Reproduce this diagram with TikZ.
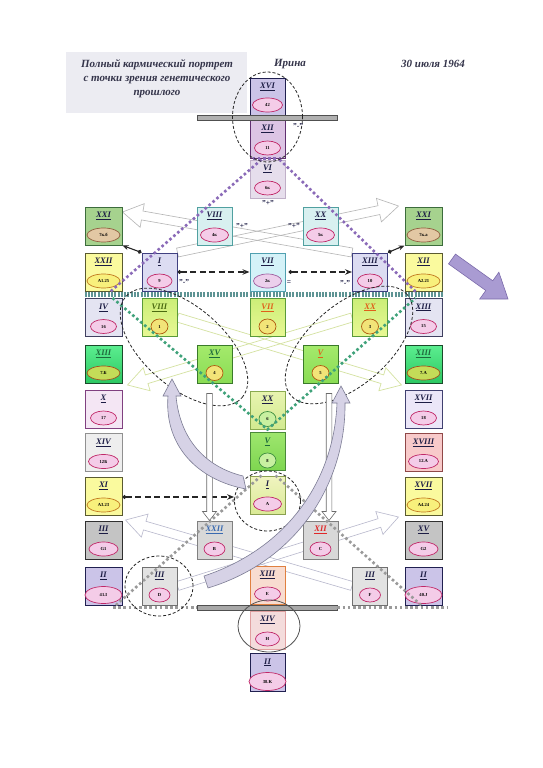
\documentclass[tikz,border=0pt]{standalone}
\usepackage{fontspec}
\setmainfont{Liberation Serif}
\usetikzlibrary{calc,shapes.geometric,arrows.meta}
\pgfdeclarelayer{background}
\pgfsetlayers{background,main}

\definecolor{titlebg}{HTML}{ECECF2}
\definecolor{ttlc}{HTML}{34344A}
\definecolor{labc}{HTML}{1C1C44}
\definecolor{labg}{HTML}{1E6A3C}
\definecolor{labo}{HTML}{E0601A}
\definecolor{labol}{HTML}{4A6A10}
\definecolor{labb}{HTML}{3A6AB0}
\definecolor{labr}{HTML}{E02828}
\definecolor{pinkf}{HTML}{F4CCE8}
\definecolor{pinkd}{HTML}{C02868}
\definecolor{yelf}{HTML}{F8F07C}
\definecolor{yeld}{HTML}{C07820}
\definecolor{tanf}{HTML}{E2C8A4}
\definecolor{tand}{HTML}{906040}
\definecolor{lavof}{HTML}{ECD0EC}
\definecolor{lavod}{HTML}{A060A0}
\definecolor{ogf}{HTML}{C4DC58}
\definecolor{ogd}{HTML}{A05020}
\definecolor{circf}{HTML}{F2E478}
\definecolor{circd}{HTML}{B05A10}
\definecolor{circgf}{HTML}{C8F0A0}
\definecolor{circgd}{HTML}{409040}
\definecolor{purpc}{HTML}{8A6AB8}
\definecolor{tealc}{HTML}{5E9494}
\definecolor{greenc}{HTML}{3FA27A}
\definecolor{grayc}{HTML}{9A9A9A}

\newcommand\kb[8]{%
  \node[kbox,#4] (#1) at (#2,#3) {};
  \node[klab,text=#6] (#1-l) at ([yshift=-9.5pt]#1.north) {\underline{#5}};
  \node[koval,#8] (#1-o) at ([yshift=10.5pt]#1.south) {#7};
}
\newcommand\harrow[6]{%
  \path[#6] let \p1=(#1), \p2=(#2),
    \n1={atan2(\y2-\y1,\x2-\x1)}, \n2={veclen(\x2-\x1,\y2-\y1)}, \n3={\n2-#5pt} in
    [shift={(\p1)}, rotate=\n1]
    (0pt,-#3pt) -- (\n3,-#3pt) -- (\n3,-#4pt) -- (\n2,0pt) -- (\n3,#4pt) -- (\n3,#3pt) -- (0pt,#3pt) -- cycle;}

\tikzset{
  kbox/.style={draw, line width=1pt, minimum width=35pt, minimum height=38pt, inner sep=0pt},
  outer/.style={minimum width=37pt},
  klab/.style={font=\bfseries\itshape\fontsize{8.5}{9}\selectfont, inner sep=0pt},
  koval/.style={ellipse, line width=0.7pt, minimum width=28pt, minimum height=14pt, inner sep=0pt, font=\bfseries\fontsize{4.6}{5}\selectfont},
  opink/.style={fill=pinkf, draw=pinkd},
  oyellow/.style={fill=yelf, draw=yeld},
  otan/.style={fill=tanf, draw=tand},
  olav/.style={fill=lavof, draw=lavod},
  ogreen/.style={fill=ogf, draw=ogd},
  ocirc/.style={fill=circf, draw=circd, minimum width=17pt, minimum height=15pt},
  ocircg/.style={fill=circgf, draw=circgd, minimum width=17pt, minimum height=15pt},
  bgreen/.style={fill={rgb,255:red,166;green,210;blue,142}, draw={rgb,255:red,60;green,108;blue,60}},
  byellow/.style={fill={rgb,255:red,250;green,250;blue,158}, draw={rgb,255:red,90;green,90;blue,48}},
  blavl/.style={fill={rgb,255:red,228;green,228;blue,242}, draw={rgb,255:red,64;green,64;blue,96}},
  bxiii/.style={top color={rgb,255:red,92;green,238;blue,144}, bottom color={rgb,255:red,44;green,200;blue,98}, draw={rgb,255:red,26;green,74;blue,42}},
  bx/.style={fill={rgb,255:red,244;green,230;blue,244}, draw={rgb,255:red,128;green,64;blue,128}},
  bgrayl/.style={fill={rgb,255:red,238;green,238;blue,238}, draw={rgb,255:red,144;green,144;blue,144}},
  blav2/.style={fill={rgb,255:red,235;green,230;blue,248}, draw={rgb,255:red,64;green,64;blue,112}},
  bpink/.style={fill={rgb,255:red,248;green,202;blue,202}, draw={rgb,255:red,144;green,72;blue,72}},
  bgray/.style={fill={rgb,255:red,196;green,196;blue,196}, draw={rgb,255:red,48;green,48;blue,48}},
  bii/.style={fill={rgb,255:red,203;green,196;blue,232}, draw={rgb,255:red,32;green,32;blue,80}},
  bxii/.style={fill={rgb,255:red,220;green,196;blue,228}, draw={rgb,255:red,96;green,48;blue,112}},
  bvi/.style={fill={rgb,255:red,230;green,222;blue,236}, draw={rgb,255:red,192;green,176;blue,200}},
  bcyan/.style={fill={rgb,255:red,212;green,242;blue,248}, draw={rgb,255:red,80;green,160;blue,176}},
  bcyan2/.style={fill={rgb,255:red,216;green,240;blue,240}, draw={rgb,255:red,80;green,160;blue,160}},
  blavi/.style={fill={rgb,255:red,220;green,220;blue,242}, draw={rgb,255:red,64;green,64;blue,128}},
  bgy/.style={top color={rgb,255:red,204;green,238;blue,120}, bottom color={rgb,255:red,232;green,248;blue,148}, draw={rgb,255:red,90;green,154;blue,58}},
  bgr/.style={top color={rgb,255:red,164;green,234;blue,108}, bottom color={rgb,255:red,138;green,220;blue,84}, draw={rgb,255:red,58;green,122;blue,42}},
  bxx/.style={top color={rgb,255:red,232;green,244;blue,176}, bottom color={rgb,255:red,210;green,234;blue,144}, draw={rgb,255:red,138;green,170;blue,80}},
  bv/.style={top color={rgb,255:red,158;green,230;blue,110}, bottom color={rgb,255:red,126;green,214;blue,80}, draw={rgb,255:red,74;green,138;blue,58}},
  bi/.style={top color={rgb,255:red,240;green,244;blue,192}, bottom color={rgb,255:red,218;green,234;blue,150}, draw={rgb,255:red,138;green,160;blue,80}},
  bxiiic/.style={fill={rgb,255:red,248;green,220;blue,208}, draw={rgb,255:red,224;green,128;blue,64}},
  bxiv/.style={fill={rgb,255:red,244;green,220;blue,220}, draw={rgb,255:red,224;green,160;blue,160}},
  bgrayi/.style={fill={rgb,255:red,216;green,216;blue,216}, draw={rgb,255:red,128;green,128;blue,128}},
  bgrayl2/.style={fill={rgb,255:red,226;green,226;blue,226}, draw={rgb,255:red,112;green,112;blue,112}},
  ttl/.style={font=\bfseries\itshape\fontsize{11}{14}\selectfont, text=ttlc, inner sep=0pt},
  qlab/.style={font=\bfseries\fontsize{7.5}{8}\selectfont, inner sep=0pt, text=labc},
  purpd/.style={draw=purpc, line width=2.6pt, dash pattern=on 2.6pt off 2.6pt},
  tealb/.style={draw=tealc, line width=4.5pt, dash pattern=on 2pt off 1.3pt},
  greend/.style={draw=greenc, line width=2.6pt, dash pattern=on 2.6pt off 2.6pt},
  grayd/.style={draw=grayc, line width=2.6pt, dash pattern=on 2.6pt off 2.6pt},
  dashell/.style={ellipse, draw=black!85, dash pattern=on 3pt off 2pt, line width=0.8pt, inner sep=0pt},
  barn/.style={fill={rgb,255:red,176;green,176;blue,176}, draw={rgb,255:red,80;green,80;blue,80}, line width=0.8pt, minimum width=140pt, minimum height=5pt, inner sep=0pt},
  blkdash/.style={draw=black!85, line width=1.1pt, dash pattern=on 6pt off 3.5pt, {Circle[length=4pt]}-{Stealth[length=7pt,width=5.5pt]}},
  blksolid/.style={draw=black!85, line width=1.1pt, {Circle[length=4pt]}-{Stealth[length=6pt,width=5pt]}},
  hv/.style={fill=white, draw={rgb,255:red,106;green,106;blue,106}, line width=0.6pt},
  hlg/.style={draw={rgb,255:red,180;green,180;blue,180}, line width=0.6pt},
  hly/.style={draw={rgb,255:red,212;green,226;blue,160}, line width=0.7pt},
  hlb/.style={draw={rgb,255:red,184;green,184;blue,204}, line width=0.6pt},
  curv/.style={fill={rgb,255:red,214;green,210;blue,230}, draw={rgb,255:red,124;green,124;blue,148}, line width=0.6pt},
  bigp/.style={fill={rgb,255:red,169;green,155;blue,210}, draw={rgb,255:red,122;green,106;blue,170}, line width=0.6pt}
}

\begin{document}
\begin{tikzpicture}[x=1pt,y=-1pt]
\begin{pgfonlayer}{background}
\fill[white] (0,0) rectangle (542,768);
\end{pgfonlayer}
\useasboundingbox (0,0) rectangle (542,768);

% title
\node[fill=titlebg, minimum width=181pt, minimum height=61pt, inner sep=0pt] (titlebg) at (156.5,82.5) {};
\node[ttl, align=center] (title) at (157,79) {Полный кармический портрет\\с точки зрения генетического\\прошлого};
\node[ttl] (name) at (290,64) {Ирина};
\node[ttl] (date) at (433,64) {30 июля 1964};

% left column
\kb{LXXI}{103.5}{226}{bgreen,outer}{XXI}{labc}{7к.б}{otan,minimum width=33pt}
\kb{LXXII}{103.5}{272}{byellow,outer}{XXII}{labc}{А1.25}{oyellow,minimum width=33pt}
\kb{LIV}{103.5}{317.5}{blavl,outer}{IV}{labc}{16}{opink,minimum width=26pt}
\kb{LXIII}{103.5}{364}{bxiii,outer}{XIII}{labg}{7.Б}{ogreen,minimum width=33pt}
\kb{LX}{103.5}{409}{bx,outer}{X}{labc}{17}{opink,minimum width=26pt}
\kb{LXIV}{103.5}{452.5}{bgrayl,outer}{XIV}{labc}{12Б}{opink,minimum width=30pt}
\kb{LXI}{103.5}{496}{byellow,outer}{XI}{labc}{А3.23}{oyellow,minimum width=33pt}
\kb{LIII}{103.5}{540}{bgray,outer}{III}{labc}{G1}{opink,minimum width=29pt}
\kb{LII}{103.5}{586}{bii,outer}{II}{labc}{41.I}{opink,minimum width=37pt,minimum height=17pt}

% right column
\kb{RXXI}{423.5}{226}{bgreen,outer}{XXI}{labc}{7к.а}{otan,minimum width=33pt}
\kb{RXII}{423.5}{272}{byellow,outer}{XII}{labc}{А2.21}{oyellow,minimum width=33pt}
\kb{RXIII}{423.5}{317.5}{blavl,outer}{XIII}{labc}{15}{opink,minimum width=26pt}
\kb{RXIIIb}{423.5}{364}{bxiii,outer}{XIII}{labg}{7.А}{ogreen,minimum width=33pt}
\kb{RXVII}{423.5}{409}{blav2,outer}{XVII}{labc}{18}{opink,minimum width=26pt}
\kb{RXVIII}{423.5}{452.5}{bpink,outer}{XVIII}{labc}{12.А}{opink,minimum width=30pt}
\kb{RXVIIb}{423.5}{496}{byellow,outer}{XVII}{labc}{А4.24}{oyellow,minimum width=33pt}
\kb{RXV}{423.5}{540}{bgray,outer}{XV}{labc}{G2}{opink,minimum width=29pt}
\kb{RII}{423.5}{586}{bii,outer}{II}{labc}{40.J}{opink,minimum width=37pt,minimum height=17pt}

% centre column
\kb{CXVI}{267.5}{96.5}{bii,minimum height=37pt}{XVI}{labc}{42}{opink,minimum width=30pt}
\kb{CXII}{267.5}{139}{bxii}{XII}{labc}{11}{opink,minimum width=26pt}
\kb{CVI}{267.5}{179}{bvi}{VI}{labc}{6к}{opink,minimum width=26pt}
\kb{CVIIa}{267.5}{272}{bcyan}{VII}{labc}{2к}{olav}
\kb{CVIIb}{267.5}{317.5}{bgy}{VII}{labo}{2}{ocirc}
\kb{CXX}{267.5}{410}{bxx}{XX}{labc}{6}{ocircg}
\kb{CV}{267.5}{451.5}{bv}{V}{labg}{8}{ocircg}
\kb{CI}{267.5}{495}{bi}{I}{labc}{A}{opink}
\kb{CXIII}{267.5}{585}{bxiiic}{XIII}{labc}{E}{opink,minimum width=26pt}
\kb{CXIV}{267.5}{630}{bxiv}{XIV}{labc}{H}{opink,minimum width=24pt}
\kb{CII}{267.5}{672.5}{bii}{II}{labc}{38.K}{opink,minimum width=37pt,minimum height=18pt}

% inner boxes
\kb{IVIII}{214.5}{226}{bcyan2}{VIII}{labc}{4к}{opink}
\kb{IXX}{320.5}{226}{bcyan2}{XX}{labc}{5к}{opink}
\kb{II9}{159.5}{272}{blavi}{I}{labc}{9}{opink,minimum width=25pt}
\kb{IXIII}{370}{272}{blavi}{XIII}{labc}{10}{opink,minimum width=25pt}
\kb{IVIIIg}{159.5}{317.5}{bgy}{VIII}{labol}{1}{ocirc}
\kb{IXXg}{370}{317.5}{bgy}{XX}{labo}{3}{ocirc}
\kb{IXV}{214.5}{364}{bgr}{XV}{labg}{4}{ocirc}
\kb{IV5}{320.5}{364}{bgr}{V}{labo}{5}{ocirc}
\kb{IXXII}{214.5}{540}{bgrayi}{XXII}{labb}{B}{opink,minimum width=21pt}
\kb{IXII}{320.5}{540}{bgrayi}{XII}{labr}{C}{opink,minimum width=21pt}
\kb{IIIID}{159.5}{586}{bgrayl2}{III}{labc}{D}{opink,minimum width=21pt}
\kb{IIIIF}{370}{586}{bgrayl2}{III}{labc}{F}{opink,minimum width=21pt}

% light hollow crossing arrows (behind boxes)
\begin{pgfonlayer}{background}
\harrow{IXIII.north west}{[yshift=14pt]LXXI.east}{4.5}{12}{20}{hlg}
\harrow{II9.north east}{[xshift=-6pt,yshift=20pt]RXXI.west}{4.5}{12}{20}{hlg}
\harrow{IXXg.west}{[xshift=5pt,yshift=-21pt]LXIII.east}{4.5}{12}{20}{hly}
\harrow{IVIIIg.east}{[xshift=-3pt,yshift=-21pt]RXIIIb.west}{4.5}{12}{20}{hly}
\harrow{IIIIF.west}{[xshift=3pt,yshift=20pt]LIII.east}{4.5}{12}{20}{hlb}
\harrow{IIIID.east}{[xshift=-6pt,yshift=23pt]RXV.west}{4.5}{12}{20}{hlb}
\end{pgfonlayer}

% bars
\node[barn] (tbar) at (267,117.5) {};
\node[barn, fill={rgb,255:red,168;green,168;blue,168}] (bbar) at (267,607.5) {};
\coordinate (bl) at (113,607.5);
\coordinate (br) at (447,607.5);

% dotted lines
\draw[tealb] ([yshift=-3pt]LXXII.south west) -- ([yshift=-3pt]RXII.south east);
\draw[purpd] ([xshift=-6pt]CVI.north) -- ([xshift=7pt]LXXII.south);
\draw[purpd] ([xshift=12pt]CVI.north) -- ([xshift=-8pt]RXII.south);
\draw[purpd] ([xshift=3pt]CXII.south west) -- ([xshift=-3pt]CXII.south east);
\draw[greend] ([xshift=9pt]LIV.north) -- (CXX.south) -- ([xshift=-8pt]RXIII.north);
\draw[grayd] ([xshift=-6pt]CI.north) -- ([xshift=12pt]LII.south);
\draw[grayd] ([xshift=8pt]CI.north) -- ([xshift=-2pt]RII.south);
\draw[grayd] (bl) -- (bbar.west);
\draw[grayd] (bbar.east) -- (br);

% ellipses
\node[dashell, minimum width=70pt, minimum height=90pt] (eTop) at (267.5,117) {};
\node[dashell, minimum width=154pt, minimum height=80pt, rotate=-41] (eL) at (184,347) {};
\node[dashell, minimum width=154pt, minimum height=80pt, rotate=41] (eR) at (349,345) {};
\node[dashell, minimum width=66pt, minimum height=60pt] (eI) at (267.5,501) {};
\node[dashell, minimum width=68pt, minimum height=60pt] (eD) at (159,586) {};
\node[ellipse, draw={rgb,255:red,85;green,85;blue,85}, line width=0.8pt, minimum width=62pt, minimum height=52pt, inner sep=0pt] (eH) at (269,626) {};

% black arrows
\draw[blkdash] (II9.east) -- (CVIIa.west);
\draw[blkdash] ([xshift=3pt]CVIIa.east) -- (IXIII.west);
\draw[blkdash] ([yshift=-1pt]LXI.east) -- ([yshift=-1pt]LXI.east -| eI.west);
\draw[blksolid] (II9.north west) -- (LXXI.south east);
\draw[blksolid] (IXIII.north east) -- (RXXI.south west);

% vertical hollow arrows
\harrow{[xshift=-5pt,yshift=-10pt]IXV.south}{[xshift=-5pt]IXXII.north}{2.8}{7}{9}{hv}
\harrow{[xshift=8.5pt,yshift=-10pt]IV5.south}{[xshift=8.5pt]IXII.north}{2.8}{7}{9}{hv}

% curved arrows
\draw[curv] (168,396) .. controls (164,445) and (197,480) .. (246,489) -- (243,476) .. controls (206,467) and (180,440) .. (176,396) -- (181,396) -- (172,379) -- (163,396) -- cycle;
\draw[curv] (345,403) .. controls (346,480) and (300,560) .. (208,588) -- (204,576) .. controls (288,548) and (334,480) .. (337,403) -- (332,403) -- (341,386) -- (350,403) -- cycle;

% big purple arrow
\coordinate (pa1) at (452,259);
\coordinate (pa2) at (508,299);
\harrow{pa1}{pa2}{6}{16.5}{23}{bigp}

% sign labels
\node[qlab] (q1) at (298,126) {"-"};
\node[qlab] (q2) at (268,203) {"+"};
\node[qlab] (q3) at (242,226) {"+"};
\node[qlab] (q4) at (294,226) {"+"};
\node[qlab] (q5) at (184,282) {"-"};
\node[qlab] (q6) at (289,283) {=};
\node[qlab] (q7) at (345,283) {"-"};
\end{tikzpicture}
\end{document}
